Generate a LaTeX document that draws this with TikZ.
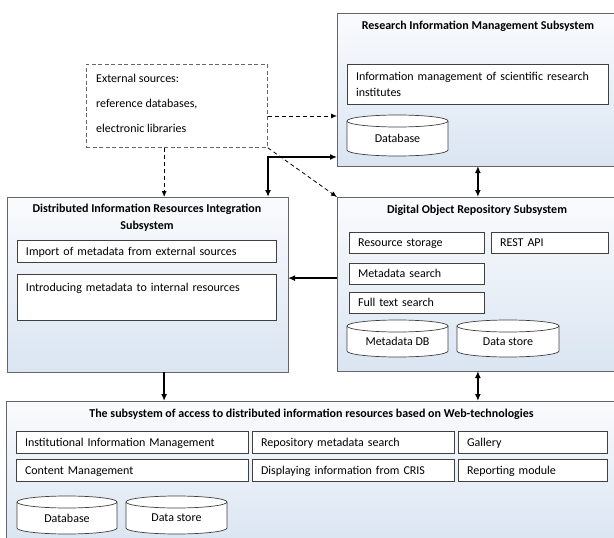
\documentclass[tikz,border=0pt]{standalone}
\usepackage{fontspec}
\setmainfont{Carlito}
\usetikzlibrary{arrows.meta,calc}
\definecolor{boxblue}{RGB}{218,229,242}
\definecolor{boxtop}{RGB}{250,251,253}
\newcommand\dbcyl[6]{%
  \pgfmathsetmacro\cxr{#4/2}%
  \filldraw[cylstyle] (#2,#3+6) -- (#2,#3+#5-6) arc[start angle=180,end angle=0,x radius=\cxr,y radius=6] -- (#2+#4,#3+6) arc[start angle=0,end angle=-180,x radius=\cxr,y radius=6] -- cycle;
  \draw[cylstyle] (#2,#3+6) arc[start angle=180,end angle=0,x radius=\cxr,y radius=6];
  \node[txt] (#1) at (#2+#4/2,#3+#5/2+3) {#6};
}
\begin{document}
\begin{tikzpicture}[x=1pt,y=-1pt,
  obox/.style={draw=black!60, line width=0.8pt, top color=boxtop, bottom color=boxblue, anchor=north west, inner sep=0pt, outer sep=0pt},
  ibox/.style={draw=black!75, line width=0.7pt, fill=white, anchor=north west, inner xsep=9pt, inner ysep=3pt, align=left, outer sep=0pt, font=\fontsize{12}{16}\selectfont},
  onel/.style={text height=9pt, text depth=1pt},
  ttl/.style={font=\bfseries\fontsize{12}{17}\selectfont, align=center, inner sep=0pt},
  txt/.style={font=\fontsize{12}{14}\selectfont, inner sep=0pt},
  cylstyle/.style={draw=black!75, line width=0.7pt, fill=white},
  thickarr/.style={line width=1.9pt, -{Latex[length=7pt,width=6pt]}},
  thickboth/.style={line width=1.9pt, {Latex[length=7pt,width=6pt]}-{Latex[length=7pt,width=6pt]}},
  dasharr/.style={line width=0.8pt, dash pattern=on 4pt off 3pt, -{Latex[length=6pt,width=5pt]}}
]
\useasboundingbox (0,0) rectangle (614,538);

% outer boxes
\node[obox, minimum width=279pt, minimum height=153pt] (rims) at (337,13) {};
\node[obox, minimum width=279pt, minimum height=174pt] (dors) at (337,197) {};
\node[obox, minimum width=281pt, minimum height=175pt] (diris) at (7,197) {};
\node[obox, minimum width=612pt, minimum height=142pt] (bot) at (6,401) {};
\node[draw=black!60, line width=0.8pt, dash pattern=on 4pt off 2.5pt, anchor=north west, minimum width=181pt, minimum height=83pt, inner sep=0pt] (ext) at (86,64) {};
\node[anchor=west, align=left, inner sep=0pt, font=\fontsize{12}{25}\selectfont] (exttext) at (96,103) {External sources:\\reference databases,\\electronic libraries};

% titles
\node[ttl] (rimst) at (478,26) {Research Information Management Subsystem};
\node[ttl] (dorst) at (477,210) {Digital Object Repository Subsystem};
\node[ttl] (dirist) at (147,217.5) {Distributed Information Resources Integration\\Subsystem};
\node[ttl] (bott) at (311.5,414) {The subsystem of access to distributed information resources based on Web-technologies};

% RIMS content
\node[ibox, text width=243pt, minimum height=40pt, inner ysep=4pt] (rimsinfo) at (347,64) {Information management of scientific research\\institutes};
\dbcyl{rimsdb}{347}{115}{101}{41}{Database}

% DIRIS content
\node[ibox, onel, text width=241pt, minimum height=22pt] (imp) at (17,240) {Import of metadata from external sources};
\node[ibox, text width=241pt, minimum height=46pt, text height=9pt, text depth=21pt] (intro) at (17,274) {Introducing metadata to internal resources};

% DORS content
\node[ibox, onel, text width=117pt, minimum height=21pt] (resst) at (349,232) {Resource storage};
\node[ibox, onel, text width=99pt, minimum height=21pt] (rest) at (491,232) {REST API};
\node[ibox, onel, text width=117pt, minimum height=21pt] (mds) at (349,263) {Metadata search};
\node[ibox, onel, text width=117pt, minimum height=21pt] (fts) at (349,292) {Full text search};
\dbcyl{mddb}{347}{320}{101}{37}{Metadata DB}
\dbcyl{dsdors}{457}{320}{102}{37}{Data store}

% bottom content
\node[ibox, onel, text width=214pt, minimum height=22pt] (iim) at (16,431) {Institutional Information Management};
\node[ibox, onel, text width=184pt, minimum height=22pt] (rms) at (252,431) {Repository metadata search};
\node[ibox, onel, text width=131pt, minimum height=22pt] (gal) at (458,431) {Gallery};
\node[ibox, onel, text width=214pt, minimum height=22pt] (cm) at (16,459) {Content Management};
\node[ibox, onel, text width=184pt, minimum height=22pt] (dic) at (252,459) {Displaying information from CRIS};
\node[ibox, onel, text width=131pt, minimum height=22pt] (rep) at (458,459) {Reporting module};
\dbcyl{botdb}{17}{496}{100}{38}{Database}
\dbcyl{botds}{126}{496}{101}{38}{Data store}

% connectors
\coordinate (e1) at ($(ext.north east)!0.62!(ext.south east)$);
\draw[dasharr] (e1) -- (e1 -| rims.west);
\coordinate (e2) at ($(ext.south west)!0.43!(ext.south east)$);
\draw[dasharr] (e2) -- (e2 |- diris.north);
\draw[dasharr] (ext.south east) -- (dors.north west);

\coordinate (t1) at ($(rims.north west)!0.941!(rims.south west)$);
\coordinate (t2) at ($(diris.north west)!0.929!(diris.north east)$);
\draw[thickboth] (t1) -| (t2);

\coordinate (r1) at ($(rims.south west)!0.505!(rims.south east)$);
\draw[thickboth] (r1) -- (r1 |- dors.north);

\coordinate (d1) at ($(dors.north west)!0.466!(dors.south west)$);
\draw[thickarr] (d1) -- (d1 -| diris.east);

\coordinate (b1) at ($(diris.south west)!0.559!(diris.south east)$);
\draw[thickarr] (b1) -- (b1 |- bot.north);

\coordinate (b2) at ($(dors.south west)!0.505!(dors.south east)$);
\draw[thickboth] (b2) -- (b2 |- bot.north);
\end{tikzpicture}
\end{document}
